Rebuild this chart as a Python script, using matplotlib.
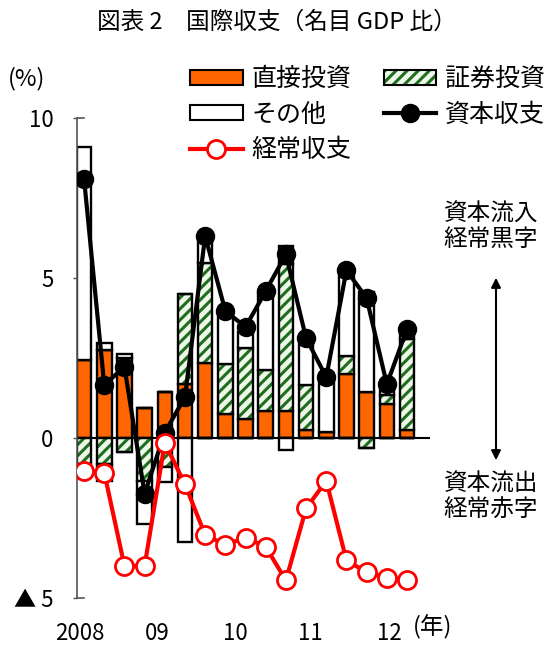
import numpy as np
import matplotlib.pyplot as plt
from matplotlib.patches import Patch
from matplotlib.lines import Line2D

plt.rcParams['font.family'] = ['Noto Sans CJK JP', 'DejaVu Sans']
plt.rcParams['hatch.linewidth'] = 2.2

# quarterly, 2008Q1 - 2012Q1 (% of nominal GDP)
quarters = ['08Q1', '08Q2', '08Q3', '08Q4', '09Q1', '09Q2', '09Q3', '09Q4',
            '10Q1', '10Q2', '10Q3', '10Q4', '11Q1', '11Q2', '11Q3', '11Q4', '12Q1']
direct = [2.45, 2.75, 2.5, 0.95, 1.45, 1.7, 2.35, 0.75, 0.6, 0.85, 0.85, 0.25, 0.2, 2.0, 1.45, 1.05, 0.25]
securities_pos = [0, 0, 0, 0, 0, 2.8, 3.13, 1.55, 2.2, 1.27, 4.6, 1.4, 0, 0.57, 0, 0.3, 2.84]
securities_neg = [-0.8, -0.8, -0.43, -1.35, -0.9, 0, 0, 0, 0, 0, 0, 0, 0, 0, -0.3, 0, 0]
other_pos = [6.65, 0.22, 0.12, 0, 0, 0, 0.72, 1.6, 0.5, 2.4, 0.55, 1.37, 1.65, 2.64, 3.1, 0.24, 0.18]
other_neg = [0, -0.55, 0, -1.33, -0.47, -3.25, 0, 0, 0, 0, -0.39, 0, 0, 0, 0, 0, 0]
capital = [8.1, 1.66, 2.22, -1.74, 0.17, 1.28, 6.31, 3.97, 3.47, 4.59, 5.74, 3.12, 1.9, 5.24, 4.37, 1.68, 3.4]
current = [-1.03, -1.08, -4.0, -4.0, -0.15, -1.45, -3.03, -3.34, -3.11, -3.4, -4.45, -2.2, -1.34, -3.82, -4.2, -4.36, -4.45]

year_labels = ['2008', '09', '10', '11', '12']
year_pos = [-0.2, 3.65, 7.5, 11.2, 15.15]
y_ticks = [-5, 0, 5, 10]
y_ticklabels = ['▲ 5', '0', '5', '10']

orange = '#FF6600'
green = '#1F6E1F'
light_green = '#EEF8E8'
red = '#FF0000'

fig = plt.figure(figsize=(5.53, 6.49), dpi=100)
ax = fig.add_axes([77 / 553, 1 - 598 / 649, 353 / 553, 480 / 649])

x = np.arange(len(quarters))
w = 0.72
direct = np.array(direct)
sp = np.array(securities_pos)
sn = np.array(securities_neg)
op = np.array(other_pos)
on = np.array(other_neg)

edge = dict(edgecolor='black', linewidth=1.7)
ax.bar(x, direct, w, color=orange, zorder=2, **edge)
# hatched part first without outline, then the black outline over it
ax.bar(x, sp, w, bottom=direct, color=light_green, hatch='///', edgecolor=green, linewidth=0, zorder=2)
ax.bar(x, sp, w, bottom=direct, fill=False, zorder=2, **edge)
ax.bar(x, op, w, bottom=direct + sp, color='white', zorder=2, **edge)
ax.bar(x, sn, w, color=light_green, hatch='///', edgecolor=green, linewidth=0, zorder=2)
ax.bar(x, sn, w, fill=False, zorder=2, **edge)
ax.bar(x, on, w, bottom=sn, color='white', zorder=2, **edge)

ax.axhline(0, color='black', lw=1.5, zorder=2.5)

ax.plot(x, capital, color='black', lw=3, marker='o', ms=13, zorder=3)
ax.plot(x, current, color=red, lw=3, marker='o', ms=13, mfc='white', mec=red, mew=2, zorder=4)

ax.set_xlim(-0.35, 17.14)
ax.set_ylim(-5, 10)
for side in ['top', 'right', 'bottom']:
    ax.spines[side].set_visible(False)
ax.spines['left'].set_color('#555555')
ax.spines['left'].set_linewidth(1.2)
# bracket ends of the y axis
ax.axhline(10, xmin=0, xmax=0.02, color='#555555', lw=1.2, clip_on=False)
ax.axhline(-5, xmin=0, xmax=0.02, color='#555555', lw=1.2, clip_on=False)

ax.set_yticks(y_ticks)
ax.set_yticklabels(y_ticklabels)
ax.tick_params(axis='y', direction='out', length=3, width=1, color='#555555', pad=14, labelsize=16)
ax.set_xticks(year_pos)
ax.set_xticklabels(year_labels)
ax.tick_params(axis='x', length=0, pad=17, labelsize=16)

fig.text(0.5, 1 - 22 / 649, '図表 2　国際収支（名目 GDP 比）', ha='center', va='center', fontsize=17)
fig.text(8 / 553, 1 - 79 / 649, '(%)', ha='left', va='center', fontsize=17)
fig.text(413 / 553, 1 - 627 / 649, '(年)', ha='left', va='center', fontsize=17)

fig.text(491 / 553, 1 - 227 / 649, '資本流入\n経常黒字', ha='center', va='center', fontsize=17, linespacing=1.15)
fig.text(491 / 553, 1 - 497 / 649, '資本流出\n経常赤字', ha='center', va='center', fontsize=17, linespacing=1.15)
ax.annotate('', xy=(496 / 553, 1 - 275 / 649), xytext=(496 / 553, 1 - 463 / 649),
            xycoords='figure fraction', textcoords='figure fraction',
            arrowprops=dict(arrowstyle='<|-|>', color='black', lw=1.5, mutation_scale=14))

h_direct = Patch(facecolor=orange, edgecolor='black', linewidth=1.5)
h_sec = (Patch(facecolor=light_green, hatch='///', edgecolor=green, linewidth=0),
         Patch(fill=False, edgecolor='black', linewidth=1.5))
h_other = Patch(facecolor='white', edgecolor='black', linewidth=1.5)
h_cap = Line2D([], [], color='black', lw=3, marker='o', ms=13)
h_cur = Line2D([], [], color=red, lw=3, marker='o', ms=13, mfc='white', mec=red, mew=2)

fig.legend([h_direct, h_other, h_cur, h_sec, h_cap],
           ['直接投資', 'その他', '経常収支', '証券投資', '資本収支'],
           ncol=2, loc='upper left', bbox_to_anchor=(190 / 553, 1 - 66 / 649),
           frameon=False, fontsize=18, handlelength=2.1, handleheight=0.55,
           handletextpad=0.35, columnspacing=1.3, labelspacing=0.38,
           borderaxespad=0, borderpad=0)

fig.savefig('out.png', dpi=100)
